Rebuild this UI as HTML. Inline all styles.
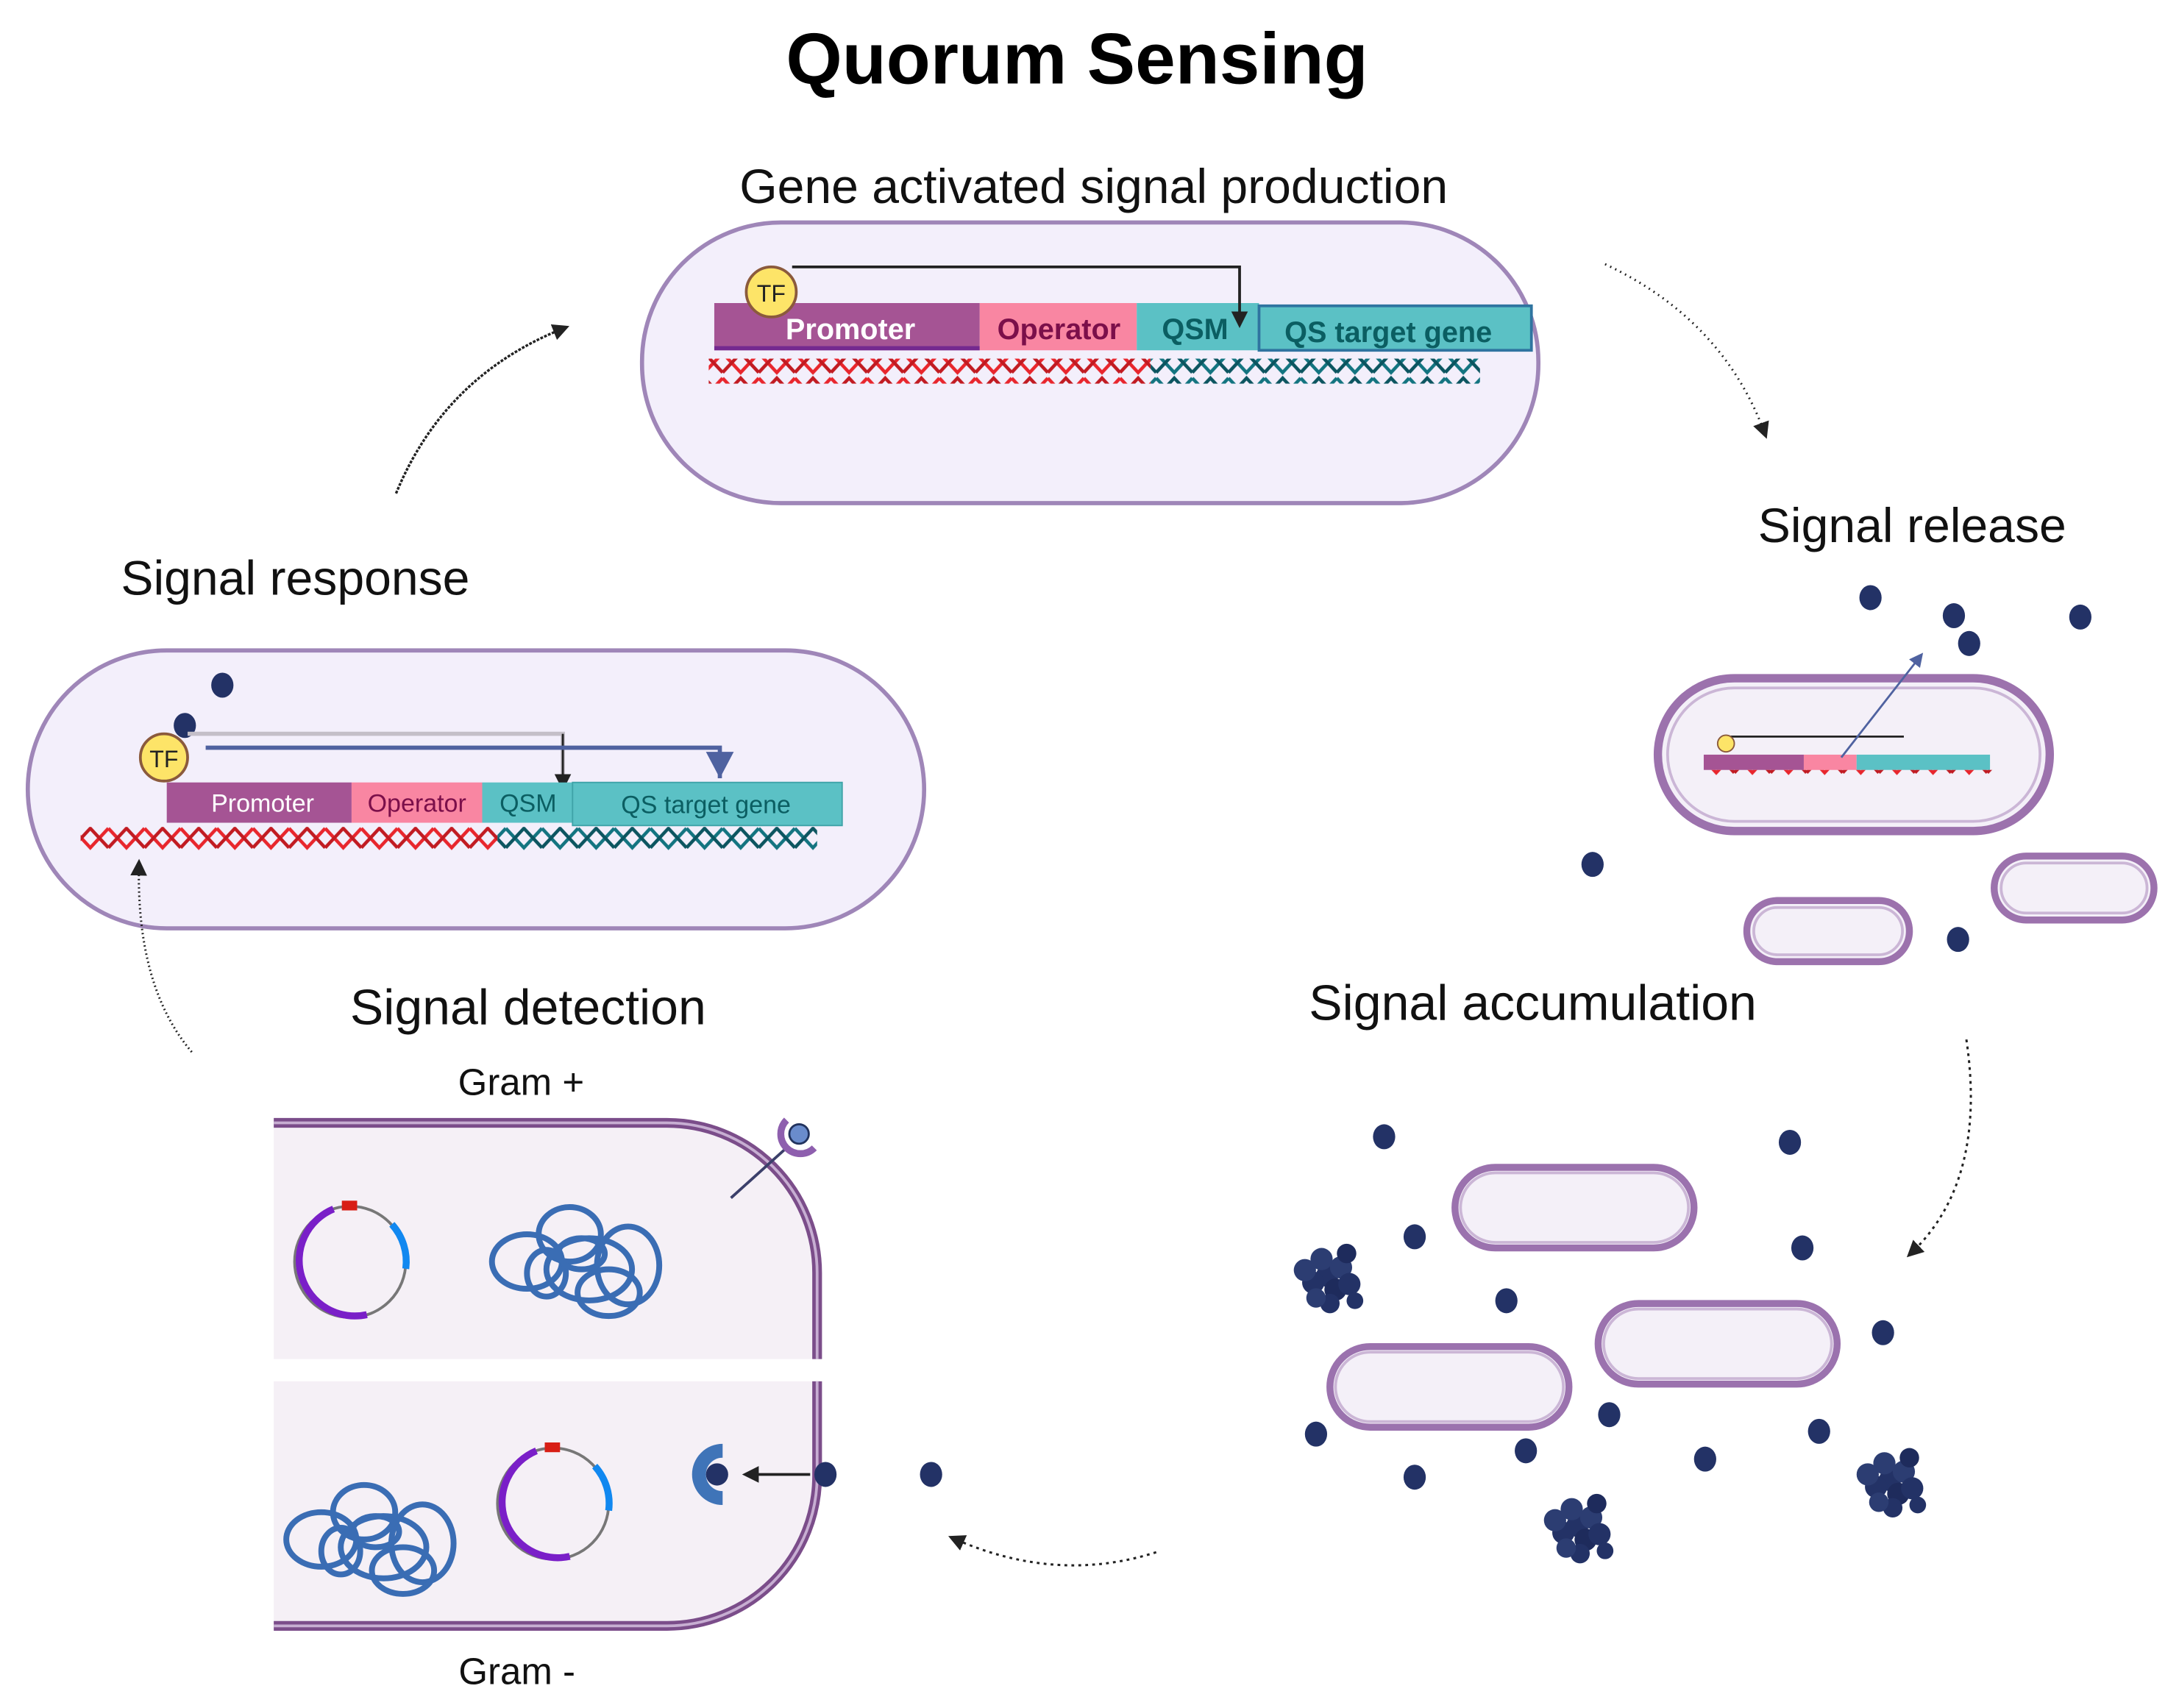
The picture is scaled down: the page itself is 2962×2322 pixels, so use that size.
<!DOCTYPE html>
<html><head><meta charset="utf-8"><style>
html,body{margin:0;padding:0;background:#fff}
svg{display:block}
text{font-family:"Liberation Sans",sans-serif}
</style></head><body>
<svg width="2962" height="2322" viewBox="0 0 1568 1229" xmlns="http://www.w3.org/2000/svg">
<defs>
<pattern id="hr" width="26" height="18" patternUnits="userSpaceOnUse">
<path d="M0,2 L13,16 L26,2" fill="none" stroke="#e8262d" stroke-width="2.4"/>
<path d="M0,16 L13,2 L26,16" fill="none" stroke="#c11b22" stroke-width="2.4"/>
</pattern>
<pattern id="ht" width="26" height="18" patternUnits="userSpaceOnUse">
<path d="M0,2 L13,16 L26,2" fill="none" stroke="#137480" stroke-width="2.4"/>
<path d="M0,16 L13,2 L26,16" fill="none" stroke="#0c5560" stroke-width="2.4"/>
</pattern>
<marker id="ah" markerWidth="12" markerHeight="12" refX="8" refY="6" orient="auto" markerUnits="userSpaceOnUse"><path d="M0,0 L12,6 L0,12 Z" fill="#222"/></marker>
<marker id="ahb" markerWidth="10" markerHeight="10" refX="7" refY="5" orient="auto" markerUnits="userSpaceOnUse"><path d="M0,0 L10,5 L0,10 Z" fill="#4f62a0"/></marker>
<g id="dot"><ellipse cx="0" cy="0" rx="8" ry="9" fill="#233266"/></g>
<g id="clu">
<circle cx="0" cy="0" r="8" fill="#233266"/><circle cx="10" cy="-6" r="8" fill="#2c3d72"/><circle cx="-10" cy="5" r="8" fill="#233266"/>
<circle cx="6" cy="10" r="8" fill="#1e2b5c"/><circle cx="-4" cy="-12" r="8" fill="#2c3d72"/><circle cx="16" cy="6" r="8" fill="#233266"/>
<circle cx="-16" cy="-4" r="8" fill="#2c3d72"/><circle cx="2" cy="20" r="7" fill="#233266"/><circle cx="14" cy="-16" r="7" fill="#1e2b5c"/>
<circle cx="-8" cy="16" r="7" fill="#2c3d72"/><circle cx="20" cy="18" r="6" fill="#233266"/>
</g>
<g id="cap"><rect x="0" y="0" width="172" height="58" rx="29" fill="#f4f0f8" stroke="#9b72ae" stroke-width="5"/><rect x="4" y="4" width="164" height="50" rx="25" fill="none" stroke="#cbb6d6" stroke-width="2"/></g>
<g id="plas"><circle cx="0" cy="0" r="40" fill="none" stroke="#777" stroke-width="2"/>
<path d="M-12,-38 A40,40 0 0,0 12,38" fill="none" stroke="#7a1fc8" stroke-width="5"/>
<path d="M30,-27 A40,40 0 0,1 40,5" fill="none" stroke="#1188f0" stroke-width="5"/>
<rect x="-6" y="-44" width="11" height="7" fill="#d81e15"/></g>
<g id="chr" fill="none" stroke="#3a6db4" stroke-width="3">
<g transform="scale(1.4)">
<ellipse cx="-22" cy="2" rx="18" ry="14"/><ellipse cx="-12" cy="8" rx="10" ry="12"/><ellipse cx="0" cy="-12" rx="16" ry="14"/>
<ellipse cx="10" cy="6" rx="22" ry="16"/><ellipse cx="30" cy="4" rx="16" ry="20"/><ellipse cx="20" cy="18" rx="16" ry="12"/><ellipse cx="6" cy="-2" rx="12" ry="8"/></g></g>
</defs>

<text x="775" y="60" text-anchor="middle" font-size="52" font-weight="bold" fill="#000">Quorum Sensing</text>
<text x="787" y="146" text-anchor="middle" font-size="35" fill="#111">Gene activated signal production</text>

<!-- top cell -->
<rect x="462" y="160" width="645" height="202" rx="100" fill="#f3effb" stroke="#9f86b8" stroke-width="3"/>
<rect x="514" y="218" width="191" height="34" fill="#a55494"/>
<rect x="514" y="249" width="191" height="3" fill="#74298f"/>
<rect x="705" y="218" width="113" height="34" fill="#f986a2"/>
<rect x="818" y="218" width="88" height="34" fill="#5bc1c5"/>
<rect x="906" y="220" width="196" height="32" fill="#5bc1c5" stroke="#2f74a0" stroke-width="2"/>
<text x="612" y="244" text-anchor="middle" font-size="21" font-weight="bold" fill="#fff">Promoter</text>
<text x="762" y="244" text-anchor="middle" font-size="21" font-weight="bold" fill="#7b0f4a">Operator</text>
<text x="860" y="244" text-anchor="middle" font-size="21" font-weight="bold" fill="#0b5e62">QSM</text>
<text x="999" y="246" text-anchor="middle" font-size="21" font-weight="bold" fill="#0b5e62">QS target gene</text>
<polyline points="570,192 892,192 892,232" fill="none" stroke="#222" stroke-width="2" marker-end="url(#ah)"/>
<ellipse cx="555" cy="210" rx="18" ry="18" fill="#fde468" stroke="#8b5a3c" stroke-width="2"/>
<text x="555" y="217" text-anchor="middle" font-size="17" fill="#222">TF</text>
<rect x="510" y="258" width="318" height="18" fill="url(#hr)"/>
<rect x="828" y="258" width="237" height="18" fill="url(#ht)"/>

<!-- arrows -->
<path d="M1155,190 Q1240,230 1270,312" fill="none" stroke="#222" stroke-width="1.6" stroke-dasharray="1,3" marker-end="url(#ah)"/>
<path d="M285,355 Q320,270 406,236" fill="none" stroke="#222" stroke-width="1.8" stroke-dasharray="2,1" marker-end="url(#ah)"/>
<path d="M1415,748 Q1430,850 1375,902" fill="none" stroke="#222" stroke-width="1.6" stroke-dasharray="2,3" marker-end="url(#ah)"/>
<path d="M832,1117 Q760,1140 686,1107" fill="none" stroke="#222" stroke-width="1.6" stroke-dasharray="2,3" marker-end="url(#ah)"/>

<!-- signal release -->
<text x="1376" y="390" text-anchor="middle" font-size="35" fill="#111">Signal release</text>
<use href="#dot" x="1346" y="430"/><use href="#dot" x="1406" y="443"/><use href="#dot" x="1417" y="463"/><use href="#dot" x="1497" y="444"/>
<use href="#dot" x="1146" y="622"/><use href="#dot" x="1409" y="676"/>
<rect x="1193" y="488" width="282" height="110" rx="55" fill="#f4f0f8" stroke="#9c72ad" stroke-width="6"/>
<rect x="1200" y="495" width="268" height="96" rx="48" fill="none" stroke="#cbb6d6" stroke-width="2"/>
<rect x="1226" y="543" width="72" height="11" fill="#a55494"/><rect x="1298" y="543" width="38" height="11" fill="#f986a2"/><rect x="1336" y="543" width="96" height="11" fill="#5bc1c5"/>
<rect x="1226" y="554" width="210" height="4" fill="url(#hr)"/>
<line x1="1245" y1="530" x2="1370" y2="530" stroke="#222" stroke-width="1.5"/>
<circle cx="1242" cy="535" r="6" fill="#fde468" stroke="#8b5a3c"/>
<line x1="1325" y1="545" x2="1382" y2="472" stroke="#4f62a0" stroke-width="1.5" marker-end="url(#ahb)"/>
<rect x="1257" y="648" width="117" height="44" rx="22" fill="#f4f0f8" stroke="#9c72ad" stroke-width="5"/>
<rect x="1262" y="653" width="107" height="34" rx="17" fill="none" stroke="#cbb6d6" stroke-width="2"/>
<rect x="1435" y="616" width="115" height="46" rx="23" fill="#f4f0f8" stroke="#9c72ad" stroke-width="5"/>
<rect x="1440" y="621" width="105" height="36" rx="18" fill="none" stroke="#cbb6d6" stroke-width="2"/>

<!-- accumulation -->
<text x="1103" y="734" text-anchor="middle" font-size="36" fill="#111">Signal accumulation</text>
<use href="#cap" x="1047" y="840"/><use href="#cap" x="1150" y="938"/><use href="#cap" x="957" y="969"/>
<use href="#dot" x="996" y="818"/><use href="#dot" x="1288" y="822"/><use href="#dot" x="1018" y="890"/><use href="#dot" x="1297" y="898"/>
<use href="#dot" x="1084" y="936"/><use href="#dot" x="1355" y="959"/><use href="#dot" x="1158" y="1018"/><use href="#dot" x="1309" y="1030"/>
<use href="#dot" x="947" y="1032"/><use href="#dot" x="1098" y="1044"/><use href="#dot" x="1227" y="1050"/><use href="#dot" x="1018" y="1063"/>
<use href="#clu" x="955" y="918"/><use href="#clu" x="1135" y="1098"/><use href="#clu" x="1360" y="1065"/>

<!-- detection -->
<text x="380" y="737" text-anchor="middle" font-size="36" fill="#111">Signal detection</text>
<text x="375" y="788" text-anchor="middle" font-size="27" fill="#111">Gram +</text>
<text x="372" y="1212" text-anchor="middle" font-size="27" fill="#111">Gram -</text>
<path d="M197,808 L480,808 A108,108 0 0,1 588,916 L588,978 L197,978 Z" fill="#f5f0f6"/>
<path d="M197,808 L480,808 A108,108 0 0,1 588,916 L588,978" fill="none" stroke="#7b4d8a" stroke-width="7"/>
<path d="M197,808 L480,808 A108,108 0 0,1 588,916 L588,978" fill="none" stroke="#c7aed2" stroke-width="2"/>
<path d="M197,994 L588,994 L588,1062 A108,108 0 0,1 480,1170 L197,1170 Z" fill="#f5f0f6"/>
<path d="M588,994 L588,1062 A108,108 0 0,1 480,1170 L197,1170" fill="none" stroke="#7b4d8a" stroke-width="7"/>
<path d="M588,994 L588,1062 A108,108 0 0,1 480,1170 L197,1170" fill="none" stroke="#c7aed2" stroke-width="2"/>
<use href="#plas" x="252" y="908"/><use href="#plas" x="398" y="1082"/>
<use href="#chr" x="410" y="905"/><use href="#chr" x="262" y="1105"/>
<line x1="526" y1="862" x2="566" y2="826" stroke="#3b3f6a" stroke-width="2"/>
<path d="M566,806 A12,12 0 1,0 586,826" fill="none" stroke="#8e5fae" stroke-width="5"/>
<circle cx="575" cy="816" r="7" fill="#6a8ccc" stroke="#22335e" stroke-width="1.5"/>
<path d="M520,1044 A17,17 0 1,0 520,1078" fill="none" stroke="#3f74b8" stroke-width="10"/>
<circle cx="516" cy="1061" r="8" fill="#233266"/>
<line x1="583" y1="1061" x2="538" y2="1061" stroke="#222" stroke-width="2" marker-end="url(#ah)"/>
<use href="#dot" x="594" y="1061"/><use href="#dot" x="670" y="1061"/>

<!-- response -->
<text x="87" y="428" font-size="35" fill="#111">Signal response</text>
<rect x="20" y="468" width="645" height="200" rx="100" fill="#f3effb" stroke="#9f86b8" stroke-width="3"/>
<use href="#dot" x="160" y="493"/><use href="#dot" x="133" y="522"/>
<polyline points="135,528 405,528 405,563" fill="none" stroke="#c4bfc8" stroke-width="3"/>
<line x1="405" y1="528" x2="405" y2="565" stroke="#222" stroke-width="1.5" marker-end="url(#ah)"/>
<polyline points="148,538 518,538 518,560" fill="none" stroke="#4f62a0" stroke-width="3"/>
<path d="M508,541 L528,541 L518,560 Z" fill="#4f62a0"/>
<rect x="120" y="563" width="133" height="29" fill="#a55494"/>
<rect x="253" y="563" width="94" height="29" fill="#f986a2"/>
<rect x="347" y="563" width="65" height="29" fill="#5bc1c5"/>
<rect x="412" y="563" width="194" height="31" fill="#5bc1c5" stroke="#3fa3a8" stroke-width="1"/>
<text x="189" y="584" text-anchor="middle" font-size="18" fill="#fff">Promoter</text>
<text x="300" y="584" text-anchor="middle" font-size="18" fill="#7b0f4a">Operator</text>
<text x="380" y="584" text-anchor="middle" font-size="18" fill="#0b5e62">QSM</text>
<text x="508" y="585" text-anchor="middle" font-size="18" fill="#0b5e62">QS target gene</text>
<ellipse cx="118" cy="545" rx="17" ry="17" fill="#fde468" stroke="#8b5a3c" stroke-width="2"/>
<text x="118" y="552" text-anchor="middle" font-size="17" fill="#222">TF</text>
<rect x="58" y="595" width="300" height="17" fill="url(#hr)"/>
<rect x="358" y="595" width="230" height="17" fill="url(#ht)"/>
<path d="M138,757 Q98,710 100,622" fill="none" stroke="#222" stroke-width="1.6" stroke-dasharray="1,2" marker-end="url(#ah)"/>
</svg>
</body></html>
